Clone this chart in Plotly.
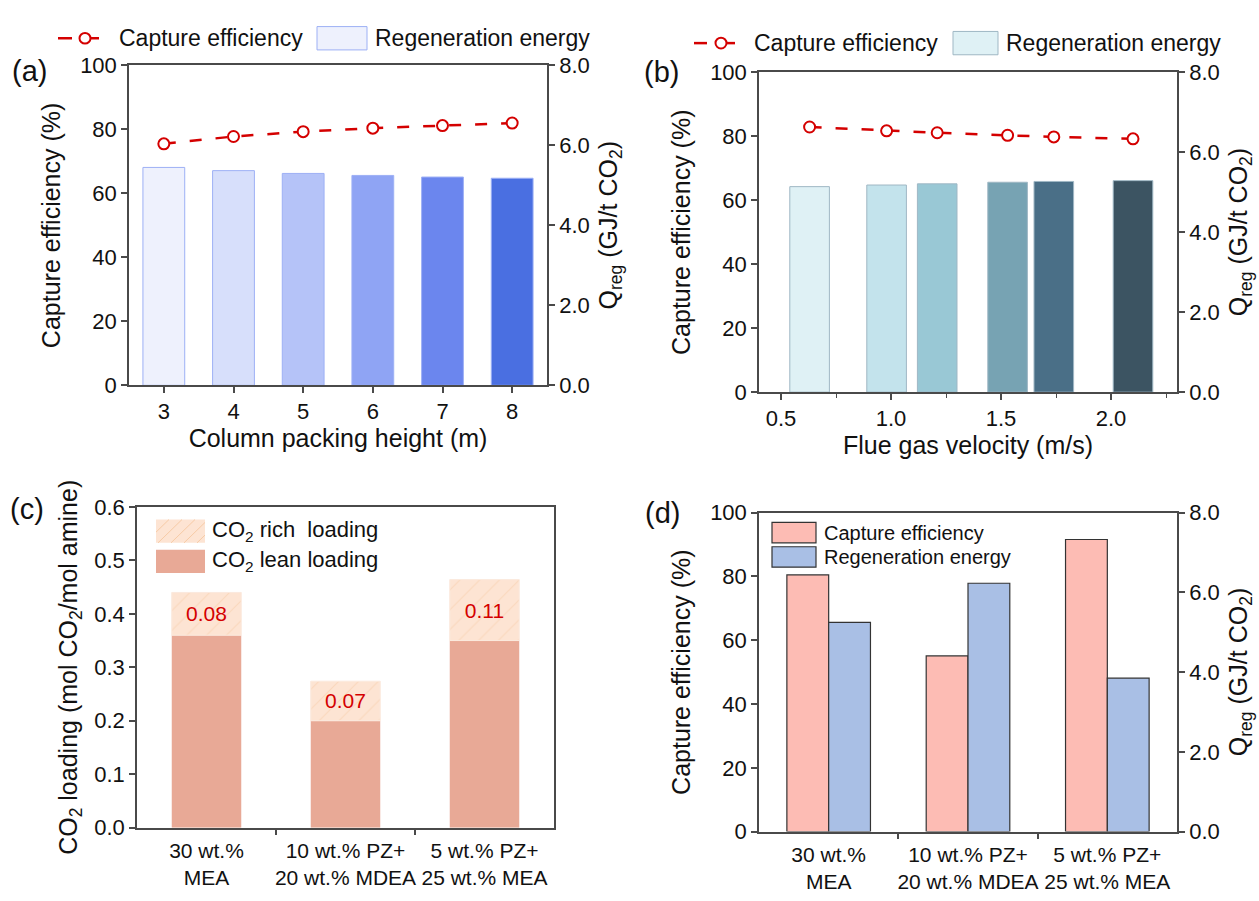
import plotly.graph_objects as go

W, H = 1259, 901
FONT = "Liberation Sans, Arial, sans-serif"

# ---------------- data ----------------
# (a) column packing height
height_m = [3, 4, 5, 6, 7, 8]
eff_a = [75.5, 77.8, 79.3, 80.4, 81.2, 82.0]
qreg_a = [5.45, 5.37, 5.30, 5.25, 5.21, 5.18]
colors_a = ["#EEF1FD", "#D7DFFB", "#B5C3F8", "#8FA4F4", "#6B86EE", "#4A6FE1"]

# (b) flue gas velocity
velocity = [0.63, 0.98, 1.21, 1.53, 1.74, 2.10]
eff_b = [82.9, 81.7, 81.1, 80.3, 79.8, 79.2]
qreg_b = [5.14, 5.18, 5.21, 5.25, 5.27, 5.29]
colors_b = ["#DFF1F5", "#C3E3EC", "#99C8D5", "#77A3B3", "#4A6F87", "#3C5462"]

# (c) CO2 loading
solvents = ["30 wt.%<br>MEA", "10 wt.% PZ+<br>20 wt.% MDEA", "5 wt.% PZ+<br>25 wt.% MEA"]
lean = [0.36, 0.20, 0.35]
rich = [0.44, 0.274, 0.464]
delta_labels = ["0.08", "0.07", "0.11"]

# (d) solvent comparison
eff_d = [80.5, 55.1, 91.6]
qreg_d = [5.25, 6.23, 3.85]

xpos = list(range(len(solvents)))
RED = "#D40000"
AX = "#4a4a4a"


def fx(x):
    return x / W


def fy(y):
    return 1 - y / H


fig = go.Figure()

# (a)
fig.add_trace(go.Bar(x=height_m, y=qreg_a, width=0.6, xaxis="x", yaxis="y2",
                     marker=dict(color=colors_a, line=dict(color="#9DB0F5", width=1)),
                     showlegend=False))
fig.add_trace(go.Scatter(x=height_m, y=eff_a, xaxis="x", yaxis="y", mode="lines+markers",
                         line=dict(color=RED, width=2.5, dash="12px,14px"),
                         marker=dict(symbol="circle", size=11, color="white",
                                     line=dict(color=RED, width=2)),
                         showlegend=False))
# (b)
fig.add_trace(go.Bar(x=velocity, y=qreg_b, width=0.18, xaxis="x2", yaxis="y4",
                     marker=dict(color=colors_b, line=dict(color="#9FB7C4", width=1)),
                     showlegend=False))
fig.add_trace(go.Scatter(x=velocity, y=eff_b, xaxis="x2", yaxis="y3", mode="lines+markers",
                         line=dict(color=RED, width=2.5, dash="12px,14px"),
                         marker=dict(symbol="circle", size=11, color="white",
                                     line=dict(color=RED, width=2)),
                         showlegend=False))
# (c)
fig.add_trace(go.Bar(x=xpos, y=lean, width=0.5, xaxis="x3", yaxis="y5",
                     marker=dict(color="#E8A996", line=dict(width=0)), showlegend=False))
fig.add_trace(go.Bar(x=xpos, y=[r - l for r, l in zip(rich, lean)], base=lean, width=0.5,
                     xaxis="x3", yaxis="y5",
                     marker=dict(color="#FDE4D3", line=dict(color="#FBE9DD", width=1),
                                 pattern=dict(shape="/", bgcolor="#FDE4D3", fgcolor="#F7CBA6",
                                              size=14, solidity=0.08)),
                     text=delta_labels, textposition="inside", insidetextanchor="middle",
                     textangle=0, textfont=dict(color=RED, size=21, family=FONT),
                     showlegend=False))
# (d)
fig.add_trace(go.Bar(x=xpos, y=eff_d, width=0.3, offset=-0.3, xaxis="x4", yaxis="y6",
                     marker=dict(color="#FDBCB4", line=dict(color="#333333", width=1.2)),
                     showlegend=False))
fig.add_trace(go.Bar(x=xpos, y=qreg_d, width=0.3, offset=0.0, xaxis="x4", yaxis="y7",
                     marker=dict(color="#A9BFE5", line=dict(color="#333333", width=1.2)),
                     showlegend=False))

tickfont = dict(family=FONT, size=22, color="#111")
titlefont = dict(family=FONT, size=25, color="#111")
common = dict(showline=True, linecolor=AX, linewidth=1.5, ticks="outside", ticklen=6,
              tickwidth=1.5, tickcolor=AX, tickfont=tickfont, showgrid=False, zeroline=False)

dom = {
    "a": ((129, 547), (55, 384)),
    "b": ((759, 1177), (62, 391)),
    "c": ((137, 554), (509, 839)),
    "d": ((759, 1177), (515, 843)),
}


def xd(k):
    return [fx(dom[k][0][0]), fx(dom[k][0][1])]


def yd(k):
    return [fy(dom[k][1][1]), fy(dom[k][1][0])]


qtitle = "Q<sub>reg</sub> (GJ/t CO<sub>2</sub>)"
ctitle = "Capture efficiency (%)"
cat_common = {**common, "ticks": "", "tickfont": dict(family=FONT, size=21, color="#111")}
cat_axis = dict(range=[-0.5, 2.5], tickvals=xpos, ticktext=solvents, mirror=True,
                tickangle=0, ticklabelstandoff=3,
                minor=dict(tickmode="array", tickvals=[0.5, 1.5], ticks="outside", ticklen=6,
                           tickwidth=1.5, tickcolor=AX))

fig.update_layout(
    width=W, height=H, margin=dict(l=0, r=0, t=0, b=0),
    paper_bgcolor="white", plot_bgcolor="white", barmode="overlay",
    font=dict(family=FONT, color="#111"),
    # (a)
    xaxis=dict(domain=xd("a"), anchor="y", range=[2.5, 8.5], tickvals=height_m, mirror=True,
               tickangle=0,
               title=dict(text="Column packing height (m)", font=titlefont, standoff=6), **common),
    yaxis=dict(domain=yd("a"), anchor="x", range=[0, 100], dtick=20,
               title=dict(text=ctitle, font=titlefont, standoff=12), **common),
    yaxis2=dict(overlaying="y", anchor="x", side="right", range=[0, 8], dtick=2, tickformat=".1f",
                **common),
    # (b)
    xaxis2=dict(domain=xd("b"), anchor="y3", range=[0.4, 2.3], tick0=0.5, dtick=0.5,
                tickformat=".1f", mirror=True, tickangle=0,
                minor=dict(tick0=0, dtick=0.25, ticks="outside", ticklen=4, tickwidth=1.2,
                           tickcolor=AX),
                title=dict(text="Flue gas velocity (m/s)", font=titlefont, standoff=6), **common),
    yaxis3=dict(domain=yd("b"), anchor="x2", range=[0, 100], dtick=20,
                title=dict(text=ctitle, font=titlefont, standoff=12), **common),
    yaxis4=dict(overlaying="y3", anchor="x2", side="right", range=[0, 8], dtick=2,
                tickformat=".1f", **common),
    # (c)
    xaxis3=dict(domain=xd("c"), anchor="y5", **cat_common, **cat_axis),
    yaxis5=dict(domain=yd("c"), anchor="x3", range=[0, 0.6], dtick=0.1, tickformat=".1f",
                mirror=True,
                title=dict(text="CO<sub>2</sub> loading (mol CO<sub>2</sub>/mol amine)",
                           font=titlefont, standoff=10), **common),
    # (d)
    xaxis4=dict(domain=xd("d"), anchor="y6", **cat_common, **cat_axis),
    yaxis6=dict(domain=yd("d"), anchor="x4", range=[0, 100], dtick=20,
                title=dict(text=ctitle, font=titlefont, standoff=12), **common),
    yaxis7=dict(overlaying="y6", anchor="x4", side="right", range=[0, 8], dtick=2,
                tickformat=".1f", **common),
)

shapes = []
annotations = []


def rect(x0, y0, x1, y1, fill, line, lw=1):
    shapes.append(dict(type="rect", xref="paper", yref="paper", x0=fx(x0), x1=fx(x1),
                       y0=fy(y1), y1=fy(y0), fillcolor=fill, line=dict(color=line, width=lw)))


def seg(x0, y0, x1, y1, color, lw):
    shapes.append(dict(type="line", xref="paper", yref="paper", x0=fx(x0), x1=fx(x1),
                       y0=fy(y0), y1=fy(y1), line=dict(color=color, width=lw)))


def circ(cx, cy, r, color):
    shapes.append(dict(type="circle", xref="paper", yref="paper", x0=fx(cx - r), x1=fx(cx + r),
                       y0=fy(cy + r), y1=fy(cy - r), fillcolor="white",
                       line=dict(color=color, width=2)))


def text(x, y, s, size, anchor="left", angle=0):
    annotations.append(dict(xref="paper", yref="paper", x=fx(x), y=fy(y), text=s, showarrow=False,
                            xanchor=anchor, yanchor="middle", textangle=angle,
                            font=dict(family=FONT, size=size, color="#111")))


def hatch(x0, y0, x1, y1, step, color):
    h = y1 - y0
    k = -h
    while k < (x1 - x0):
        sx, sy = x0 + k, y1
        ex, ey = x0 + k + h, y0
        if sx < x0:
            d = x0 - sx
            sx, sy = x0, y1 - d
        if ex > x1:
            d = ex - x1
            ex, ey = x1, y0 + d
        if ex > sx:
            seg(sx, sy, ex, ey, color, 1)
        k += step


# right-axis titles
for k in ("a", "b", "d"):
    (x0, x1), (y0, y1) = dom[k]
    text(x1 + 63, (y0 + y1) / 2, qtitle, 25, "center", -90)

# legend (a)
seg(58, 27, 72, 27, RED, 2.5)
circ(85, 27, 5.5, RED)
seg(91, 27, 99, 27, RED, 2.5)
text(117, 27, "Capture efficiency", 23)
rect(317, 15, 367, 39, colors_a[0], "#9DB0F5")
text(373, 27, "Regeneration energy", 23)

# legend (b)
seg(694, 32, 707, 32, RED, 2.5)
circ(721, 32, 5.5, RED)
seg(727, 32, 735, 32, RED, 2.5)
text(752, 32, "Capture efficiency", 23)
rect(953, 20, 998, 44, colors_b[0], "#9FB7C4")
text(1004, 32, "Regeneration energy", 23)

# legend (c)
rect(156, 522, 205, 546, "#FDE4D3", "#FDE4D3", 0)
hatch(156, 522, 205, 546, 13, "#F7CBA6")
rect(156, 553, 205, 577, "#E8A996", "#E8A996", 0)
text(210, 534, "CO<sub>2</sub> rich\u00a0\u00a0loading", 22)
text(210, 565, "CO<sub>2</sub> lean loading", 22)

# legend (d)
rect(772, 525, 816, 546, "#FDBCB4", "#333333", 1.2)
rect(772, 550, 816, 571, "#A9BFE5", "#333333", 1.2)
text(822, 536, "Capture efficiency", 20)
text(822, 561, "Regeneration energy", 20)

# panel labels
text(29, 61, "(a)", 29, "center")
text(661, 62, "(b)", 29, "center")
text(27, 511, "(c)", 29, "center")
text(662, 515, "(d)", 29, "center")

fig.update_layout(shapes=shapes, annotations=annotations)
fig.write_html("out.html", config={"displayModeBar": False},
               post_script="document.body.style.margin='0';document.body.style.overflow='hidden';")
